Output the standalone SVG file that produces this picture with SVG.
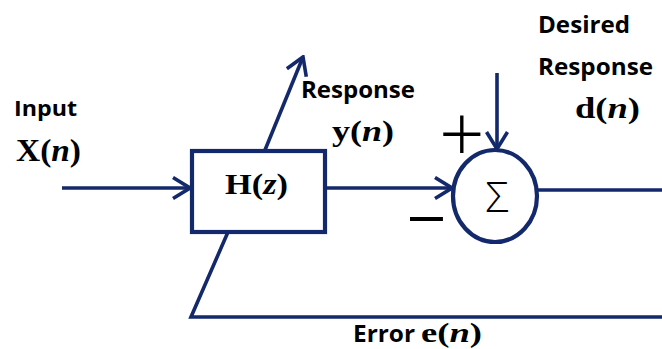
<svg xmlns="http://www.w3.org/2000/svg" width="662" height="349" viewBox="0 0 662 349">
<style>
.ln{stroke:#13296b;stroke-width:3.6;fill:none;stroke-linecap:butt}
.bx{stroke:#13296b;stroke-width:4.2;fill:#fff}
.lb{font-family:"Open Sans","Liberation Sans",sans-serif;font-weight:bold;fill:#000}
.mt{font-family:"Liberation Serif","DejaVu Serif",serif;font-weight:bold;fill:#000}
.it{font-style:italic}
.sg{font-family:"Open Sans","Liberation Sans",sans-serif;font-weight:300;fill:#000}
.mn{font-family:"Liberation Sans",sans-serif;fill:#000}
</style>
<defs>
<marker id="ah" viewBox="0 0 20 24" refX="18" refY="12" markerWidth="20" markerHeight="24" markerUnits="userSpaceOnUse" orient="auto">
<path d="M1,1.5 L18,12 L1,22.5" fill="none" stroke="#13296b" stroke-width="3.6"/>
</marker>
</defs>
<g id="connectors">
<line class="ln" x1="62" y1="188" x2="190" y2="188" marker-end="url(#ah)"/>
<line class="ln" x1="265" y1="150" x2="303" y2="57" marker-end="url(#ah)"/>
<line class="ln" x1="325" y1="188" x2="452" y2="188" marker-end="url(#ah)"/>
<line class="ln" x1="497" y1="73" x2="497" y2="149" marker-end="url(#ah)"/>
<line class="ln" x1="537" y1="190" x2="662" y2="190"/>
<polyline class="ln" points="228,232 191,317 662,317"/>
</g>
<g id="input">
<text class="lb" x="14" y="116" font-size="22" textLength="63" lengthAdjust="spacingAndGlyphs">Input</text>
<text class="mt" x="16" y="161" font-size="31" textLength="65" lengthAdjust="spacingAndGlyphs">X(<tspan class="it">n</tspan>)</text>
</g>
<g id="filter">
<rect class="bx" x="192" y="151" width="133" height="81"/>
<text class="mt" x="225" y="194" font-size="29" textLength="63" lengthAdjust="spacingAndGlyphs">H(<tspan class="it">z</tspan>)</text>
</g>
<g id="response">
<text class="lb" x="301" y="98" font-size="23" textLength="114" lengthAdjust="spacingAndGlyphs">Response</text>
<text class="mt" x="332" y="141" font-size="30" textLength="62" lengthAdjust="spacingAndGlyphs">y(<tspan class="it">n</tspan>)</text>
</g>
<g id="sum">
<ellipse class="bx" cx="495" cy="196" rx="42" ry="46"/>
<text class="sg" x="497" y="212" font-size="42" text-anchor="middle">Σ</text>
<text class="sg" x="439" y="162" font-size="80">+</text>
<text class="mn" x="410" y="234" font-size="60" textLength="33" lengthAdjust="spacingAndGlyphs">–</text>
</g>
<g id="desired">
<text class="lb" x="538" y="33" font-size="23" textLength="92" lengthAdjust="spacingAndGlyphs">Desired</text>
<text class="lb" x="538" y="75" font-size="23" textLength="115" lengthAdjust="spacingAndGlyphs">Response</text>
<text class="mt" x="575" y="118" font-size="30" textLength="65" lengthAdjust="spacingAndGlyphs">d(<tspan class="it">n</tspan>)</text>
</g>
<g id="error">
<text class="lb" x="353" y="342" font-size="23" textLength="62" lengthAdjust="spacingAndGlyphs">Error</text>
<text class="mt" x="421" y="342" font-size="28" textLength="61" lengthAdjust="spacingAndGlyphs">e(<tspan class="it">n</tspan>)</text>
</g>
</svg>
